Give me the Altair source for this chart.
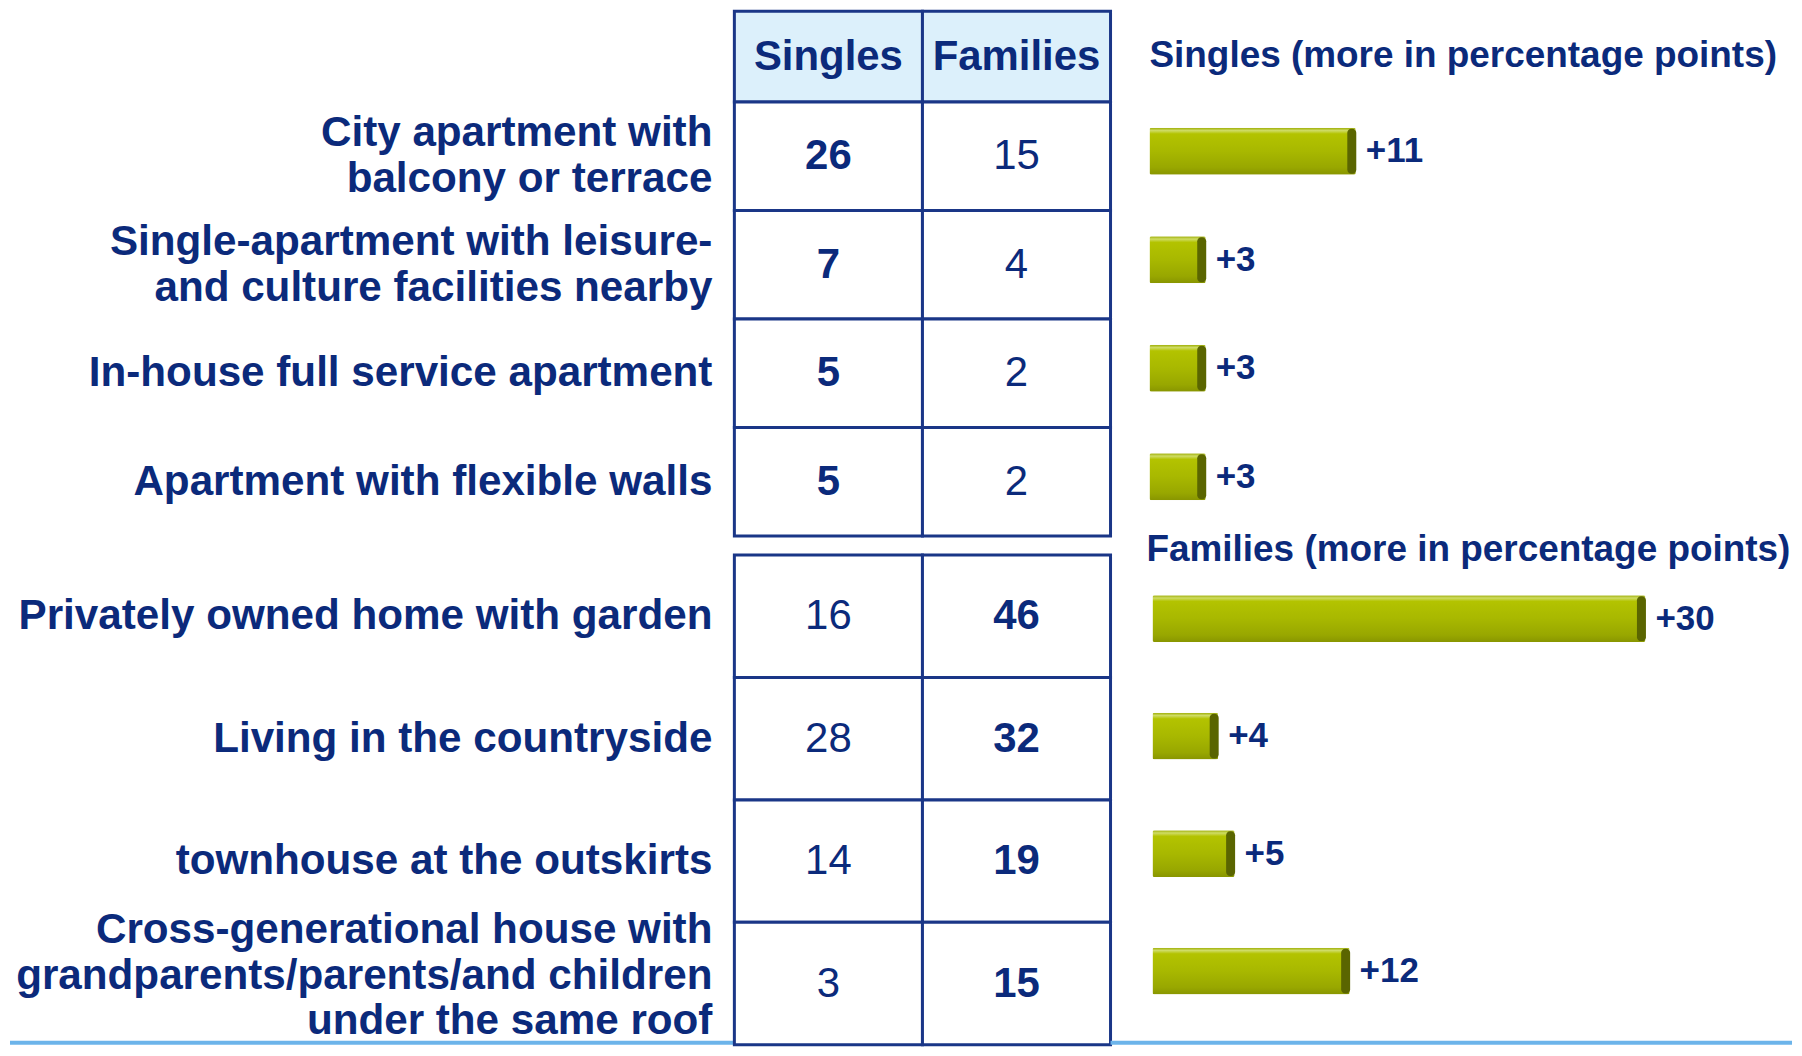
import altair as alt
import pandas as pd

# ---------------- data ----------------
categories = [
    "City apartment with\nbalcony or terrace",
    "Single-apartment with leisure-\nand culture facilities nearby",
    "In-house full service apartment",
    "Apartment with flexible walls",
    "Privately owned home with garden",
    "Living in the countryside",
    "townhouse at the outskirts",
    "Cross-generational house with\ngrandparents/parents/and children\nunder the same roof",
]
singles = [26, 7, 5, 5, 16, 28, 14, 3]
families = [15, 4, 2, 2, 46, 32, 19, 15]
more_points = [11, 3, 3, 3, 30, 4, 5, 12]
columns = ["Singles", "Families"]
section_titles = [
    "Singles (more in percentage points)",
    "Families (more in percentage points)",
]
block1 = [0, 1, 2, 3]
block2 = [4, 5, 6, 7]

# ---------------- style ----------------
NAVY = "#0b2a7b"
LINE = "#1a3687"
HEAD_FILL = "#dcf0fb"
BLUE_RULE = "#6cb4ea"
FONT = "Liberation Sans"
CAP = "#5a6500"
LINE_H = 46
BAR_FILL = {
    "gradient": "linear", "x1": 0, "x2": 0, "y1": 0, "y2": 1,
    "stops": [
        {"offset": 0.0, "color": "#9cac00"},
        {"offset": 0.06, "color": "#cfdc66"},
        {"offset": 0.13, "color": "#b3c300"},
        {"offset": 0.5, "color": "#a8b800"},
        {"offset": 0.85, "color": "#98a700"},
        {"offset": 1.0, "color": "#889500"},
    ],
}

LABEL_W, TABLE_W, BAR_W = 726, 377, 683
HEAD_H, B1_H, B2_H, GAP = 91, 435, 491, 19
BAND = alt.Scale(paddingInner=0, paddingOuter=0)


def ysort(idx):
    return [categories[i] for i in idx]


def label_panel(idx, height, bottom_rule=False):
    df = pd.DataFrame({"category": ysort(idx)})
    df["nlines"] = df["category"].str.count("\n") + 1
    y = alt.Y("category:N", sort=ysort(idx), axis=None, scale=BAND)
    layers = []
    for n in sorted(df["nlines"].unique()):
        n = int(n)
        shift = -(n - 1) * LINE_H / 2 - (8 if n > 2 else 0)
        layers.append(
            alt.Chart(df).transform_filter(f"datum.nlines == {n}").mark_text(
                align="right", baseline="middle", lineBreak="\n", lineHeight=LINE_H,
                dy=shift, font=FONT, fontSize=42.3, fontWeight="bold", color=NAVY,
            ).encode(y=y, x=alt.value(LABEL_W - 22), text="category:N")
        )
    if bottom_rule:
        layers.append(
            alt.Chart(df.head(1)).mark_rule(color=BLUE_RULE, strokeWidth=4).encode(
                x=alt.value(0), x2=alt.value(LABEL_W), y=alt.value(height - 2)
            )
        )
    return alt.layer(*layers).properties(width=LABEL_W, height=height)


def table_panel(idx, height):
    recs = []
    for i in idx:
        for col, vals, other in (("Singles", singles, families), ("Families", families, singles)):
            recs.append({"category": categories[i], "column": col,
                         "value": vals[i], "bold": bool(vals[i] > other[i])})
    df = pd.DataFrame(recs)
    x = alt.X("column:N", sort=columns, axis=None, scale=BAND)
    y = alt.Y("category:N", sort=ysort(idx), axis=None, scale=BAND)
    base = alt.Chart(df).encode(x=x, y=y)
    cells = base.mark_rect(fill="white", stroke=LINE, strokeWidth=3)
    bold = base.transform_filter("datum.bold").mark_text(
        font=FONT, fontSize=42, fontWeight="bold", color=NAVY, baseline="middle"
    ).encode(text="value:Q")
    reg = base.transform_filter("!datum.bold").mark_text(
        font=FONT, fontSize=42, fontWeight="normal", color=NAVY, baseline="middle"
    ).encode(text="value:Q")
    return alt.layer(cells, bold, reg).properties(width=TABLE_W, height=height)


def header_panel():
    df = pd.DataFrame({"column": columns})
    x = alt.X("column:N", sort=columns, axis=None, scale=BAND)
    base = alt.Chart(df).encode(x=x)
    cells = base.mark_rect(fill=HEAD_FILL, stroke=LINE, strokeWidth=3)
    txt = base.mark_text(font=FONT, fontSize=42, fontWeight="bold", color=NAVY,
                         baseline="middle").encode(text="column:N")
    return alt.layer(cells, txt).properties(width=TABLE_W, height=HEAD_H)


def empty_panel(width, height):
    return alt.Chart(pd.DataFrame({"t": [""]})).mark_text(
        fontSize=1, baseline="middle"
    ).encode(
        text="t:N", x=alt.value(width / 2), y=alt.value(height / 2)
    ).properties(width=width, height=height)


def title_text(title, x, y):
    return alt.Chart(pd.DataFrame({"title": [title]})).mark_text(
        align="left", baseline="middle", font=FONT, fontSize=37,
        fontWeight="bold", color=NAVY,
    ).encode(x=alt.value(x), y=alt.value(y), text="title:N")


def bar_panel(idx, height, start, ppu, yrange, title=None, bottom_rule=False):
    df = pd.DataFrame({
        "category": ysort(idx),
        "more": [more_points[i] for i in idx],
        "label": ["+" + str(more_points[i]) for i in idx],
    })
    vmax = max(more_points)
    x = alt.X("more:Q", axis=None,
              scale=alt.Scale(domain=[0, vmax], range=[start, start + vmax * ppu], nice=False))
    y = alt.Y("category:N", sort=ysort(idx), axis=None,
              scale=alt.Scale(paddingInner=0, paddingOuter=0, range=yrange))
    base = alt.Chart(df).encode(y=y)
    bars = base.mark_bar(height=47, fill=BAR_FILL, cornerRadius=2).encode(x=x)
    cap = base.mark_tick(orient="vertical", thickness=9, size=45, xOffset=-4,
                         color=CAP, opacity=1, cornerRadius=4).encode(x=x)
    lab = base.mark_text(align="left", baseline="middle", dx=10, font=FONT,
                         fontSize=35, fontWeight="bold", color=NAVY).encode(x=x, text="label:N")
    layers = [bars, cap, lab]
    if title is not None:
        layers.append(title_text(title, start - 6, -5))
    if bottom_rule:
        layers.append(
            alt.Chart(df.head(1)).mark_rule(color=BLUE_RULE, strokeWidth=4).encode(
                x=alt.value(0), x2=alt.value(BAR_W), y=alt.value(height - 2)
            )
        )
    return alt.layer(*layers).properties(width=BAR_W, height=height)


header_bars = title_text(section_titles[0], 39, 45).properties(width=BAR_W, height=HEAD_H)

panels = [
    empty_panel(LABEL_W, HEAD_H), header_panel(), header_bars,
    label_panel(block1, B1_H), table_panel(block1, B1_H),
    bar_panel(block1, B1_H, 39, 18.8, [-5, 430]),
    empty_panel(LABEL_W, GAP), empty_panel(TABLE_W, GAP), empty_panel(BAR_W, GAP),
    label_panel(block2, B2_H, bottom_rule=True), table_panel(block2, B2_H),
    bar_panel(block2, B2_H, 42, 16.47, [5, 476], title=section_titles[1], bottom_rule=True),
]

chart = alt.concat(
    *panels, columns=3, spacing=0, bounds="flush", align="each",
).properties(padding=0, background="white").configure_view(stroke=None)

chart.save("out.html", embed_options={"renderer": "svg", "actions": False})
